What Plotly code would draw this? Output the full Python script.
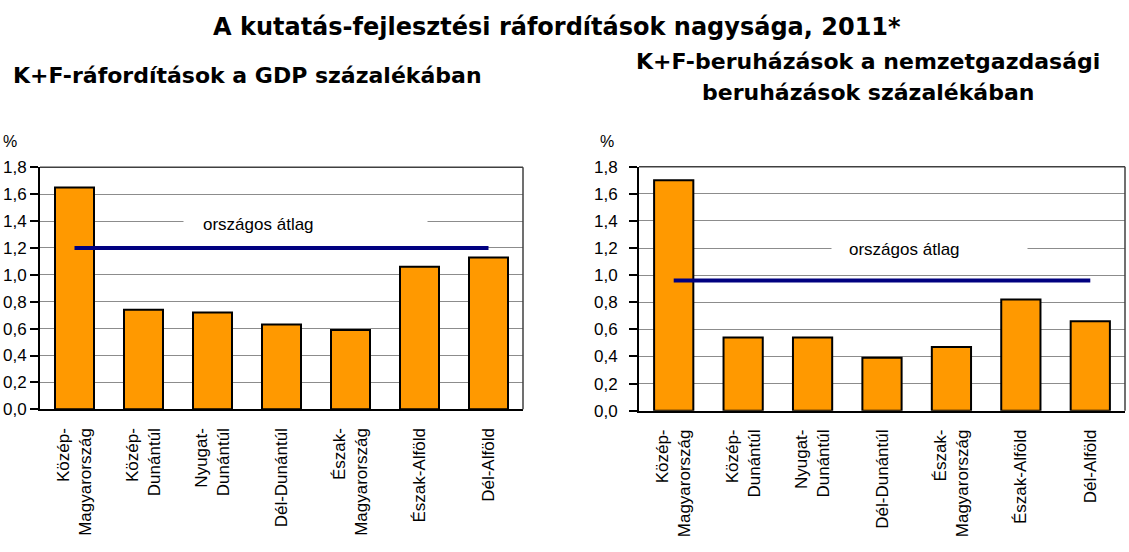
import plotly.graph_objects as go

# ---- data ----
categories = ["Közép-<br>Magyarország", "Közép-<br>Dunántúl", "Nyugat-<br>Dunántúl",
              "Dél-Dunántúl", "Észak-<br>Magyarország", "Észak-Alföld", "Dél-Alföld"]
gdp_share = [1.65, 0.74, 0.72, 0.63, 0.59, 1.06, 1.13]
gdp_avg = 1.20
invest_share = [1.70, 0.54, 0.54, 0.39, 0.47, 0.82, 0.66]
invest_avg = 0.96
y_ticks = [0.0, 0.2, 0.4, 0.6, 0.8, 1.0, 1.2, 1.4, 1.6, 1.8]

title = "A kutatás-fejlesztési ráfordítások nagysága, 2011*"
sub_left = "K+F-ráfordítások a GDP százalékában"
sub_right_1 = "K+F-beruházások a nemzetgazdasági"
sub_right_2 = "beruházások százalékában"
avg_label = "országos átlag"
unit = "%"

# ---- style ----
W, H = 1129, 552
ORANGE = "#FF9900"
NAVY = "#000080"
GRID = "#8c8c8c"
NORMAL = "Liberation Sans, Arial, sans-serif"
BOLD = "DejaVu Sans, Arial, sans-serif"

fig = go.Figure()

fig.add_trace(go.Bar(x=categories, y=gdp_share, xaxis="x", yaxis="y",
                     marker=dict(color=ORANGE, line=dict(color="black", width=2)),
                     showlegend=False))
fig.add_trace(go.Scatter(x=[categories[0], categories[-1]], y=[gdp_avg, gdp_avg],
                         xaxis="x", yaxis="y", mode="lines",
                         line=dict(color=NAVY, width=4), showlegend=False))
fig.add_trace(go.Bar(x=categories, y=invest_share, xaxis="x2", yaxis="y2",
                     marker=dict(color=ORANGE, line=dict(color="black", width=2)),
                     showlegend=False))
fig.add_trace(go.Scatter(x=[categories[0], categories[-1]], y=[invest_avg, invest_avg],
                         xaxis="x2", yaxis="y2", mode="lines",
                         line=dict(color=NAVY, width=4), showlegend=False))

xcommon = dict(type="category", categoryorder="array", categoryarray=categories,
               range=[-0.5, 6.5], showline=True, linecolor="black", linewidth=2,
               ticks="", showgrid=False, tickangle=-90, automargin=False,
               tickfont=dict(family=NORMAL, size=17, color="black"),
               ticklabelstandoff=10)
ycommon = dict(range=[0, 1.8], tickvals=y_ticks, tickformat=".1f", automargin=False,
               showgrid=True, gridcolor=GRID, gridwidth=1, zeroline=False,
               showline=True, linecolor="black", linewidth=2,
               ticks="outside", ticklen=8, tickwidth=1.5, tickcolor="black",
               tickfont=dict(family=NORMAL, size=17, color="black"))

fig.update_layout(
    width=W, height=H,
    margin=dict(l=0, r=0, t=0, b=0),
    paper_bgcolor="white", plot_bgcolor="white",
    separators=", ",
    bargap=0.435,
    xaxis=dict(xcommon, domain=[40 / W, 523 / W], anchor="y"),
    yaxis=dict(ycommon, domain=[1 - 409.3 / H, 1 - 167.3 / H], anchor="x",
               ticklabelstandoff=0),
    xaxis2=dict(xcommon, domain=[639 / W, 1125 / W], anchor="y2"),
    yaxis2=dict(ycommon, domain=[1 - 410.7 / H, 1 - 166.7 / H], anchor="x2",
                ticklabelstandoff=8),
)

# thin dark frame on top and right of each plot area
shapes = []
for xr, yr in (("x", "y"), ("x2", "y2")):
    shapes.append(dict(type="line", xref=f"{xr} domain", yref=f"{yr} domain",
                       x0=0, x1=1, y0=1, y1=1, line=dict(color="#404040", width=1.5),
                       layer="above"))
    shapes.append(dict(type="line", xref=f"{xr} domain", yref=f"{yr} domain",
                       x0=1, x1=1, y0=0, y1=1, line=dict(color="#404040", width=1.5),
                       layer="above"))
fig.update_layout(shapes=shapes)

lbl_font = dict(family=NORMAL, size=17, color="black")
ann = []
# white boxes hiding the gridline behind the "országos átlag" labels
ann.append(dict(text=" ", xref="x", yref="y", x=1.57, y=1.40, xanchor="left", yanchor="middle",
                width=241, height=18, bgcolor="white", showarrow=False, font=lbl_font))
ann.append(dict(text=" ", xref="x2", yref="y2", x=2.27, y=1.20, xanchor="left", yanchor="middle",
                width=193, height=18, bgcolor="white", showarrow=False, font=lbl_font))
ann.append(dict(text=avg_label, xref="x", yref="y", x=2.67, y=1.375, showarrow=False,
                xanchor="center", yanchor="middle", font=lbl_font))
ann.append(dict(text=avg_label, xref="x2", yref="y2", x=3.33, y=1.19, showarrow=False,
                xanchor="center", yanchor="middle", font=lbl_font))
ann.append(dict(text=unit, xref="paper", yref="paper", x=10 / W, y=1 - 141 / H,
                xanchor="center", yanchor="middle",
                showarrow=False, font=dict(family=NORMAL, size=16, color="black")))
ann.append(dict(text=unit, xref="paper", yref="paper", x=607 / W, y=1 - 141 / H,
                xanchor="center", yanchor="middle",
                showarrow=False, font=dict(family=NORMAL, size=16, color="black")))
ann.append(dict(text=f"<b>{title}</b>", xref="paper", yref="paper", x=557 / W, y=1 - 27 / H,
                xanchor="center", yanchor="middle",
                showarrow=False, font=dict(family=BOLD, size=24, color="black")))
ann.append(dict(text=f"<b>{sub_left}</b>", xref="paper", yref="paper", x=247 / W, y=1 - 76 / H,
                xanchor="center", yanchor="middle",
                showarrow=False, font=dict(family=BOLD, size=22, color="black")))
ann.append(dict(text=f"<b>{sub_right_1}</b>", xref="paper", yref="paper", x=868 / W, y=1 - 61 / H,
                xanchor="center", yanchor="middle",
                showarrow=False, font=dict(family=BOLD, size=22, color="black")))
ann.append(dict(text=f"<b>{sub_right_2}</b>", xref="paper", yref="paper", x=868 / W, y=1 - 93 / H,
                xanchor="center", yanchor="middle",
                showarrow=False, font=dict(family=BOLD, size=22, color="black")))
fig.update_layout(annotations=ann)

fig.write_html("out.html", config={"displayModeBar": False},
               post_script="document.body.style.margin='0';document.body.style.overflow='hidden';")
